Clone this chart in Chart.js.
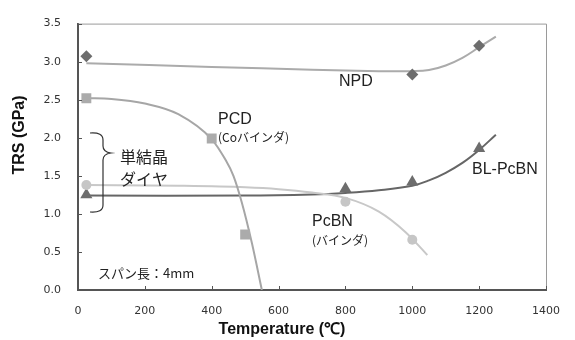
<!DOCTYPE html>
<html>
<head>
<meta charset="utf-8">
<script src="https://cdn.jsdelivr.net/npm/chart.js@4"></script>
<style>
  html, body { margin: 0; padding: 0; background: #fff; }
  #wrap { width: 575px; height: 340px; }
</style>
</head>
<body>
<div id="wrap"><canvas id="chart" width="575" height="340"></canvas></div>
<script>
// 測定値 (マーカー)
const npdTemp = [25, 1000, 1200];
const npdTrs = [3.07, 2.83, 3.21];
const pcdTemp = [25, 400, 500];
const pcdTrs = [2.52, 1.99, 0.73];
const pcbnTemp = [25, 800, 1000];
const pcbnTrs = [1.38, 1.16, 0.66];
const blTemp = [25, 800, 1000, 1200];
const blTrs = [1.25, 1.33, 1.42, 1.86];

// 近似曲線
const npdCurveTemp = [25, 400, 700, 900, 1000, 1050, 1100, 1150, 1200, 1250];
const npdCurveTrs = [2.98, 2.93, 2.895, 2.875, 2.875, 2.89, 2.95, 3.05, 3.19, 3.33];
const pcdCurveTemp = [25, 100, 200, 300, 400, 440, 465, 490, 520, 550];
const pcdCurveTrs = [2.52, 2.51, 2.45, 2.31, 1.98, 1.72, 1.50, 1.15, 0.62, 0.0];
const pcbnCurveTemp = [25, 300, 500, 600, 700, 800, 900, 980, 1045];
const pcbnCurveTrs = [1.38, 1.37, 1.35, 1.325, 1.28, 1.21, 1.03, 0.76, 0.46];
const blCurveTemp = [25, 500, 700, 800, 900, 1000, 1050, 1100, 1150, 1200, 1250];
const blCurveTrs = [1.24, 1.24, 1.255, 1.275, 1.31, 1.37, 1.44, 1.54, 1.67, 1.84, 2.04];

// 軸目盛
const xTicks = [0, 200, 400, 600, 800, 1000, 1200, 1400];
const yTicks = [0, 0.5, 1.0, 1.5, 2.0, 2.5, 3.0, 3.5];

const pts = (xs, ys) => xs.map((x, i) => ({ x: x, y: ys[i] }));

const curve = (xs, ys, color, mono) => ({
  data: pts(xs, ys),
  showLine: true,
  borderColor: color,
  borderWidth: 2,
  pointRadius: 0,
  tension: 0.4,
  cubicInterpolationMode: mono ? "monotone" : "default",
  order: 2,
});

const marks = (xs, ys, color, style, r) => ({
  data: pts(xs, ys),
  showLine: false,
  backgroundColor: color,
  borderColor: color,
  borderWidth: 0,
  pointStyle: style,
  pointRadius: r,
  order: 1,
});

// 注記・内向き目盛・外枠
const decor = {
  id: "decor",
  afterDraw(chart) {
    const ctx = chart.ctx;
    const { left, right, top, bottom } = chart.chartArea;
    const xs = chart.scales.x, ys = chart.scales.y;
    ctx.save();
    // 上・右の枠
    ctx.strokeStyle = "#9a9a9a";
    ctx.lineWidth = 1;
    ctx.beginPath();
    ctx.moveTo(left, top + 0.5);
    ctx.lineTo(right + 0.5, top + 0.5);
    ctx.lineTo(right + 0.5, bottom);
    ctx.stroke();
    // 内向き目盛
    ctx.strokeStyle = "#555";
    ctx.lineWidth = 1;
    ctx.beginPath();
    xTicks.forEach((t) => {
      const px = Math.round(xs.getPixelForValue(t)) + 0.5;
      ctx.moveTo(px, bottom);
      ctx.lineTo(px, bottom - 4);
    });
    yTicks.forEach((t) => {
      const py = Math.round(ys.getPixelForValue(t)) + 0.5;
      ctx.moveTo(left, py);
      ctx.lineTo(left + 4, py);
    });
    ctx.stroke();

    // ラベル
    ctx.fillStyle = "#222";
    ctx.textBaseline = "alphabetic";
    ctx.textAlign = "left";
    const big = "16px 'Liberation Sans', Arial, sans-serif";
    const small = "12px 'Noto Sans CJK JP', sans-serif";
    const jp = "16px 'Noto Sans CJK JP', sans-serif";
    ctx.font = big;
    ctx.fillText("NPD", 339, 86);
    ctx.fillText("PCD", 218, 124);
    ctx.fillText("BL-PcBN", 472, 174);
    ctx.fillText("PcBN", 312, 226);
    ctx.font = small;
    ctx.fillText("(Coバインダ)", 218, 142);
    ctx.fillText("(バインダ)", 312, 245);
    ctx.font = "13px 'Noto Sans CJK JP', sans-serif";
    ctx.fillText("スパン長：4mm", 98, 278);
    ctx.font = jp;
    ctx.fillText("単結晶", 120, 163);
    ctx.fillText("ダイヤ", 120, 185);

    // 波括弧
    ctx.strokeStyle = "#333";
    ctx.lineWidth = 1.2;
    ctx.beginPath();
    ctx.moveTo(90, 133);
    ctx.quadraticCurveTo(103, 132, 103, 140);
    ctx.lineTo(103, 146);
    ctx.quadraticCurveTo(103, 152, 111, 153);
    ctx.quadraticCurveTo(103, 154, 103, 160);
    ctx.lineTo(103, 205);
    ctx.quadraticCurveTo(103, 213, 90, 212);
    ctx.stroke();

    // 軸タイトル
    ctx.fillStyle = "#111";
    ctx.font = "bold 16px 'Liberation Sans', Arial, sans-serif";
    ctx.textAlign = "center";
    ctx.textBaseline = "middle";
    ctx.fillText("Temperature (℃)", 282, 330);
    ctx.translate(20, 135);
    ctx.rotate(-Math.PI / 2);
    ctx.fillText("TRS (GPa)", 0, 0);
    ctx.restore();
  },
};

new Chart(document.getElementById("chart").getContext("2d"), {
  type: "scatter",
  data: {
    datasets: [
      curve(npdCurveTemp, npdCurveTrs, "#ababab", false),
      curve(pcdCurveTemp, pcdCurveTrs, "#a6a6a6", true),
      curve(pcbnCurveTemp, pcbnCurveTrs, "#c8c8c8", true),
      curve(blCurveTemp, blCurveTrs, "#666666", false),
      marks(npdTemp, npdTrs, "#6d6d6d", "rectRot", 6),
      marks(pcdTemp, pcdTrs, "#ababab", "rect", 7),
      marks(pcbnTemp, pcbnTrs, "#c6c6c6", "circle", 5),
      marks(blTemp, blTrs, "#6d6d6d", "triangle", 7),
    ],
  },
  options: {
    responsive: false,
    animation: false,
    layout: { padding: { top: 13, right: 14, left: 0, bottom: 0 } },
    plugins: { legend: { display: false }, tooltip: { enabled: false } },
    scales: {
      x: {
        type: "linear",
        min: 0,
        max: 1400,
        afterBuildTicks: (s) => { s.ticks = xTicks.map((v) => ({ value: v })); },
        afterFit: (s) => { s.height = 50; },
        grid: { display: false, drawTicks: false },
        border: { display: true, color: "#555", width: 2 },
        ticks: {
          padding: 15,
          color: "#333",
          font: { family: "'DejaVu Sans', sans-serif", size: 11 },
          maxRotation: 0,
          callback: (v) => String(v),
        },
      },
      y: {
        type: "linear",
        min: 0,
        max: 3.5,
        afterBuildTicks: (s) => { s.ticks = yTicks.map((v) => ({ value: v })); },
        afterFit: (s) => { s.width = 78; },
        grid: { display: false, drawTicks: false },
        border: { display: true, color: "#555", width: 2 },
        ticks: {
          padding: 17,
          color: "#333",
          font: { family: "'DejaVu Sans', sans-serif", size: 11 },
          callback: (v) => Number(v).toFixed(1),
        },
      },
    },
  },
  plugins: [decor],
});
</script>
</body>
</html>
